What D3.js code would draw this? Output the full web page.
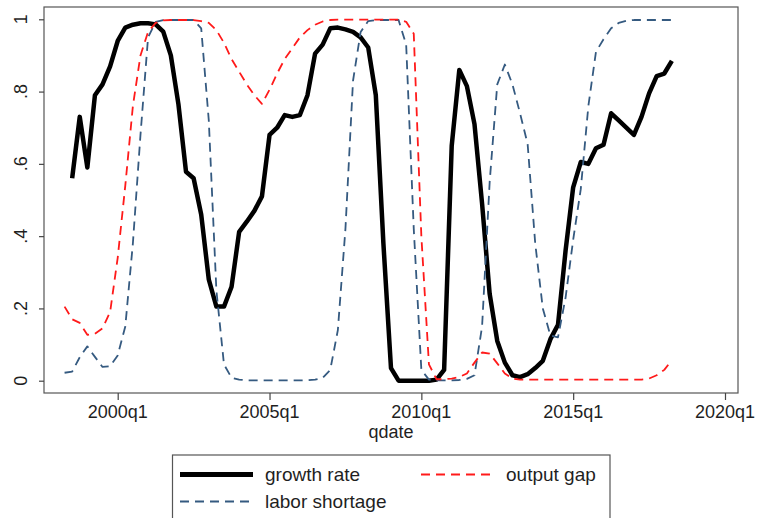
<!DOCTYPE html>
<html><head><meta charset="utf-8">
<script src="https://cdn.jsdelivr.net/npm/d3@7"></script>
<style>
html,body{margin:0;padding:0;background:#fff;}
svg{display:block;}
text{font-family:"Liberation Sans",Arial,sans-serif;fill:#1f1f1f;}
</style></head>
<body>
<svg id="chart" width="758" height="518"></svg>
<script>
const quarters = ["1998q2","1998q3","1998q4","1999q1","1999q2","1999q3","1999q4",
"2000q1","2000q2","2000q3","2000q4","2001q1","2001q2","2001q3","2001q4",
"2002q1","2002q2","2002q3","2002q4","2003q1","2003q2","2003q3","2003q4",
"2004q1","2004q2","2004q3","2004q4","2005q1","2005q2","2005q3","2005q4",
"2006q1","2006q2","2006q3","2006q4","2007q1","2007q2","2007q3","2007q4",
"2008q1","2008q2","2008q3","2008q4","2009q1","2009q2","2009q3","2009q4",
"2010q1","2010q2","2010q3","2010q4","2011q1","2011q2","2011q3","2011q4",
"2012q1","2012q2","2012q3","2012q4","2013q1","2013q2","2013q3","2013q4",
"2014q1","2014q2","2014q3","2014q4","2015q1","2015q2","2015q3","2015q4",
"2016q1","2016q2","2016q3","2016q4","2017q1","2017q2","2017q3","2017q4",
"2018q1","2018q2"];

const growthRate = [null,0.56,0.73,0.59,0.79,0.82,0.87,
0.94,0.977,0.985,0.989,0.989,0.986,0.966,0.90,
0.765,0.578,0.56,0.46,0.28,0.205,0.205,0.26,
0.412,0.44,0.47,0.51,0.68,0.70,0.735,0.73,
0.735,0.79,0.905,0.93,0.975,0.977,0.972,0.965,
0.95,0.922,0.79,0.38,0.035,0.0,0.0,0.0,
0.0,0.0,0.003,0.03,0.65,0.86,0.815,0.71,
0.49,0.24,0.11,0.05,0.015,0.01,0.018,0.035,
0.055,0.115,0.155,0.36,0.535,0.605,0.60,0.643,
0.653,0.74,0.72,0.70,0.68,0.73,0.795,0.843,
0.85,0.885];

const outputGap = [0.205,0.17,0.16,0.127,0.13,0.145,0.19,
0.34,0.54,0.76,0.90,0.965,0.99,0.997,0.998,
0.998,0.998,0.998,0.995,0.99,0.97,0.935,0.89,
0.855,0.82,0.79,0.766,0.805,0.85,0.89,0.92,
0.95,0.97,0.985,0.994,0.998,0.999,0.999,0.999,
0.999,0.999,0.999,0.999,0.999,0.999,0.993,0.96,
0.40,0.045,0.004,0.004,0.006,0.01,0.02,0.05,
0.078,0.075,0.048,0.02,0.006,0.003,0.003,0.003,
0.003,0.003,0.003,0.003,0.003,0.003,0.003,0.003,
0.003,0.003,0.003,0.003,0.003,0.003,0.006,0.015,
0.03,0.057];

const laborShortage = [0.022,0.025,0.065,0.095,0.066,0.038,0.04,
0.07,0.15,0.38,0.68,0.95,0.993,0.998,0.998,
0.998,0.998,0.998,0.975,0.72,0.25,0.045,0.008,
0.003,0.001,0.001,0.001,0.001,0.001,0.001,0.001,
0.001,0.001,0.003,0.008,0.03,0.14,0.42,0.83,
0.965,0.995,0.998,0.998,0.998,0.998,0.93,0.42,
0.03,0.003,0.001,0.001,0.001,0.002,0.005,0.015,
0.15,0.55,0.82,0.875,0.82,0.74,0.655,0.38,
0.2,0.125,0.12,0.23,0.39,0.53,0.76,0.91,
0.945,0.975,0.99,0.996,0.998,0.998,0.998,0.998,
0.998,0.998];

const xTickValues = ["2000q1","2005q1","2010q1","2015q1","2020q1"];
const yTickValues = [0,0.2,0.4,0.6,0.8,1];
const yTickLabels = ["0",".2",".4",".6",".8","1"];
const seriesNames = ["growth rate","output gap","labor shortage"];

// Stata-style quarterly date number
function qnum(s){ const y=+s.slice(0,4), q=+s.slice(5); return (y-1960)*4+(q-1); }

const svg = d3.select("#chart");
const frame = {l:44, r:738, t:7, b:393};

const x = d3.scaleLinear().domain([qnum("2000q1"), qnum("2020q1")]).range([117.7, 725]);
const y = d3.scaleLinear().domain([0,1]).range([380.7, 19.3]);

// plot frame
svg.append("rect").attr("x",frame.l).attr("y",frame.t)
  .attr("width",frame.r-frame.l).attr("height",frame.b-frame.t)
  .attr("fill","#fff").attr("stroke","#555").attr("stroke-width",1.2);

// y axis
const yAxis = d3.axisLeft(y).tickValues(yTickValues).tickSize(5).tickFormat("");
const gy = svg.append("g").attr("transform",`translate(${frame.l},0)`).call(yAxis);
gy.select(".domain").remove();
gy.selectAll(".tick line").attr("stroke","#444").attr("stroke-width",1.2);
yTickValues.forEach((v,i)=>{
  svg.append("text").attr("transform",`translate(27,${y(v)}) rotate(-90)`)
    .attr("text-anchor","middle").attr("font-size",18).text(yTickLabels[i]);
});

// x axis
const xAxis = d3.axisBottom(x).tickValues(xTickValues.map(qnum)).tickSize(7).tickFormat("");
const gx = svg.append("g").attr("transform",`translate(0,${frame.b})`).call(xAxis);
gx.select(".domain").remove();
gx.selectAll(".tick line").attr("stroke","#444").attr("stroke-width",1.2);
xTickValues.forEach(s=>{
  svg.append("text").attr("x",x(qnum(s))).attr("y",418)
    .attr("text-anchor","middle").attr("font-size",18).text(s);
});
svg.append("text").attr("x",391).attr("y",438).attr("text-anchor","middle")
  .attr("font-size",18).text("qdate");

const rows = quarters.map((q,i)=>({q:qnum(q), g:growthRate[i], o:outputGap[i], l:laborShortage[i]}));

const styles = {
  g:{color:"#000", width:4.5, dash:null},
  o:{color:"#ff1a1a", width:1.8, dash:"9,6"},
  l:{color:"#355a80", width:1.8, dash:"9,6"}
};

function drawLine(key){
  const st = styles[key];
  const line = d3.line().defined(d=>d[key]!==null).x(d=>x(d.q)).y(d=>y(d[key]));
  svg.append("path").datum(rows).attr("d",line).attr("fill","none")
    .attr("stroke",st.color).attr("stroke-width",st.width)
    .attr("stroke-dasharray",st.dash).attr("stroke-linejoin","round");
}
drawLine("g"); drawLine("l"); drawLine("o");

// legend
const lg = svg.append("g");
lg.append("rect").attr("x",172.5).attr("y",455).attr("width",437.5).attr("height",80)
  .attr("fill","#fff").attr("stroke","#555").attr("stroke-width",1.2);
const legendItems = [
  {key:"g", x1:180, x2:253, ty:474.5, tx:265},
  {key:"o", x1:421, x2:493, ty:474.5, tx:506},
  {key:"l", x1:180, x2:253, ty:501.5, tx:265}
];
legendItems.forEach((it,i)=>{
  const st = styles[it.key];
  lg.append("line").attr("x1",it.x1).attr("x2",it.x2).attr("y1",it.ty).attr("y2",it.ty)
    .attr("stroke",st.color).attr("stroke-width",it.key==="g"?5:2).attr("stroke-dasharray",st.dash);
  lg.append("text").attr("x",it.tx).attr("y",it.ty+6.5).attr("font-size",19).text(seriesNames[i]);
});
</script>
</body></html>
